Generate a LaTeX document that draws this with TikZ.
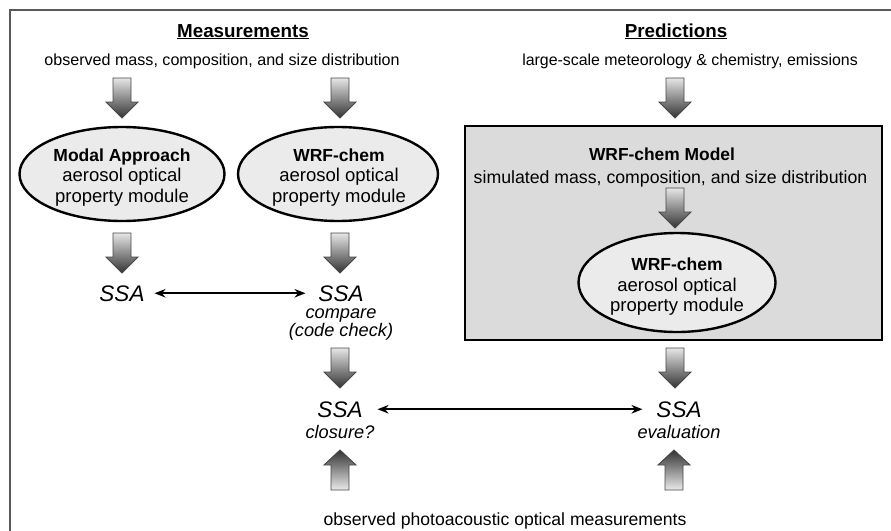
\documentclass[tikz,border=0pt]{standalone}
\usepackage{fontspec}
\setmainfont{Liberation Sans}
\usetikzlibrary{arrows.meta,shapes.geometric}

\tikzset{
  every node/.style={inner sep=0pt, outer sep=0pt},
  lbl/.style={anchor=base, font=\fontsize{16.1}{19}\selectfont},
  ttl/.style={anchor=base, font=\fontsize{18.8}{20}\selectfont\bfseries},
  oval/.style={ellipse, draw, line width=2.4pt, fill=black!8},
  ovaltxt/.style={align=center, font=\fontsize{18.5}{20.5}\selectfont},
  ssa/.style={anchor=base, font=\fontsize{22.5}{24}\selectfont\itshape},
  note/.style={anchor=base, font=\fontsize{18.2}{19}\selectfont\itshape},
  dbl/.style={{Stealth[length=11pt,width=8.5pt]}-{Stealth[length=11pt,width=8.5pt]}, line width=2pt},
  blockstyle/.style={draw=black!72, line width=0.9pt, line join=miter},
  fatdown/.pic={\path[blockstyle, top color=black!10, bottom color=black!80]
      (-9,0) -- (9,0) -- (9,24) -- (16,24) -- (0,40) -- (-16,24) -- (-9,24) -- cycle;},
  fatup/.pic={\path[blockstyle, top color=black!80, bottom color=black!8]
      (-9,0) -- (9,0) -- (9,-25) -- (16,-25) -- (0,-40) -- (-16,-25) -- (-9,-25) -- cycle;},
}

\begin{document}
\begin{tikzpicture}[x=1pt,y=-1pt]
  \useasboundingbox (0,0) rectangle (891,530);
  \clip (0,0) rectangle (891,530);

  % outer frame (only its top and left edges fall inside the page)
  \draw[line width=1.8pt, black!65] (10,545) -- (10,10) -- (905,10);

  % column headings
  \node[ttl] (meas) at (243,37) {\underline{Measurements}};
  \node[ttl] (pred) at (676,37) {\underline{Predictions}};
  \node[lbl] (obs) at (222,65) {observed mass, composition, and size distribution};
  \node[lbl, font=\fontsize{15.9}{19}\selectfont] (met) at (690,65) {large-scale meteorology \& chemistry, emissions};

  % model box
  \node[draw, line width=2.6pt, fill=black!14, minimum width=417, minimum height=214] (model) at (673.5,233) {};
  \node[anchor=base, font=\fontsize{17.4}{20}\selectfont\bfseries] (mtitle) at (662,160) {WRF-chem Model};
  \node[anchor=base, font=\fontsize{17.7}{20}\selectfont] (msim) at (670.5,183) {simulated mass, composition, and size distribution};

  % optical property modules
  \node[oval, minimum width=205, minimum height=94] (e1) at (122,174) {};
  \node[oval, minimum width=200, minimum height=94] (e2) at (338,174) {};
  \node[oval, minimum width=197, minimum height=99] (e3) at (677,282.5) {};
  \node[ovaltxt] (t1) at (122,177.5)
      {{\bfseries\fontsize{17.5}{20.5}\selectfont Modal Approach}\\aerosol optical\\property module};
  \node[ovaltxt] (t2) at (339,177.5)
      {{\bfseries\fontsize{17.5}{20.5}\selectfont WRF-chem}\\aerosol optical\\property module};
  \node[ovaltxt] (t3) at (677,287)
      {{\bfseries\fontsize{17.5}{20.5}\selectfont WRF-chem}\\aerosol optical\\property module};

  % SSA values
  \node[ssa] (ssaL) at (122,301) {SSA};
  \node[ssa] (ssaM) at (341,301) {SSA};
  \node[note] (cmp) at (341,318) {compare};
  \node[note] (chk) at (341,336) {(code check)};
  \node[ssa] (ssaC) at (340,417) {SSA};
  \node[note] (clo) at (340,438) {closure?};
  \node[ssa] (ssaE) at (679,417) {SSA};
  \node[note] (eva) at (679,438) {evaluation};
  \node[lbl, font=\fontsize{17.6}{19}\selectfont] (photo) at (505,525) {observed photoacoustic optical measurements};

  % comparisons
  \draw[dbl] ([xshift=10pt]ssaL.east) -- ([xshift=-13pt]ssaM.west);
  \draw[dbl] ([xshift=15pt]ssaC.east) -- ([xshift=-14pt]ssaE.west);

  % block arrows
  \pic at (122,78) {fatdown};
  \pic at (340,78) {fatdown};
  \pic at (675,78) {fatdown};
  \pic at (675,188) {fatdown};
  \pic at (122,233) {fatdown};
  \pic at (340,233) {fatdown};
  \pic at (340,348) {fatdown};
  \pic at (675,348) {fatdown};
  \pic at (340,490) {fatup};
  \pic at (674,490) {fatup};
\end{tikzpicture}
\end{document}
